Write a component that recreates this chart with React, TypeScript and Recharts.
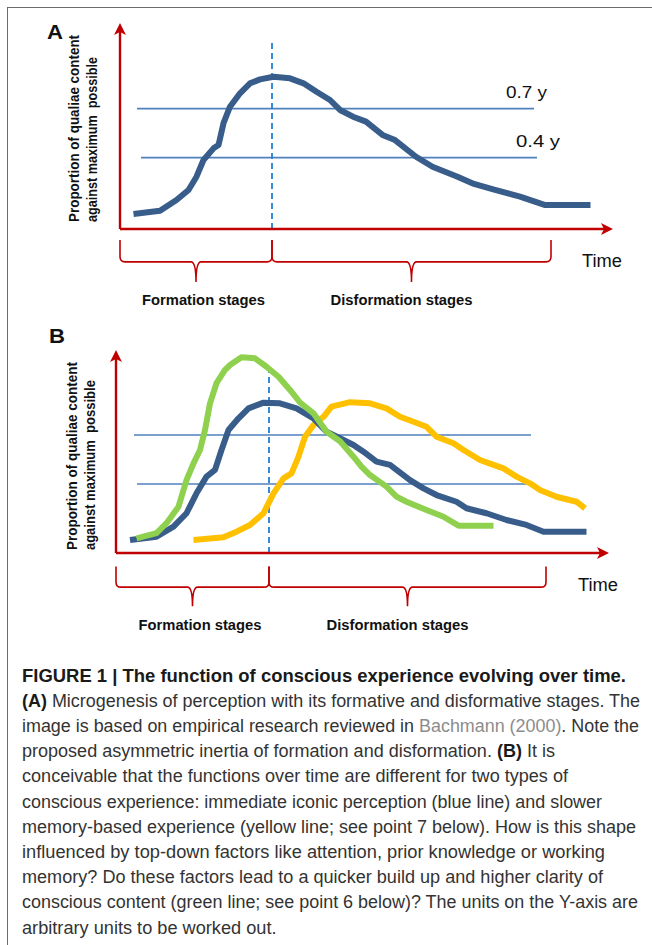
import React from "react";
import {
  LineChart,
  Line,
  XAxis,
  YAxis,
  ReferenceLine,
  ReferenceArea,
  ReferenceDot,
} from "recharts";

/**
 * Figure 1 — conscious experience evolving over time.
 * Two panels (A, B) drawn with Recharts on a shared "time" / "proportion" scale,
 * caption set underneath as SVG text.
 */

const FONT = '"Liberation Sans", Arial, sans-serif';
const RED = "#c00000";
const DARK_BLUE = "#385d8a";
const LINE_BLUE = "#4f81bd";
const DASH_BLUE = "#1f7fd6";
const GREEN = "#8fd14f";
const YELLOW = "#ffc000";

// ---- panel A : iconic perception curve ----
const A_TIME = [2.7, 8, 11.3, 13.7, 15.3, 16.7, 18.7, 19.7, 20.7, 22, 24, 26, 28, 30.7, 34, 36.7, 39.3, 42, 44, 46.6, 49.2, 52.5, 55, 59.2, 62.5, 67.5, 70.8, 75, 80, 84.9, 94.1];
const A_BLUE = [0.087, 0.106, 0.169, 0.227, 0.304, 0.401, 0.469, 0.488, 0.615, 0.711, 0.789, 0.847, 0.87, 0.885, 0.876, 0.847, 0.798, 0.75, 0.692, 0.653, 0.624, 0.547, 0.517, 0.42, 0.362, 0.304, 0.262, 0.227, 0.188, 0.14, 0.14];

// ---- panel B : iconic (blue), memory-based (yellow), top-down boosted (green) ----
const B_BLUE_TIME = [2.8, 8.1, 11.5, 14.1, 16.1, 18.1, 19.8, 21.1, 22.5, 24.5, 26.5, 29.5, 32.8, 36.1, 39.5, 42.1, 44.8, 47.5, 49.5, 52.1, 54.8, 58.8, 61.5, 64.1, 68.1, 70.1, 74.1, 78.1, 82.1, 85.5, 94.1];
const B_BLUE = [0.076, 0.095, 0.153, 0.231, 0.347, 0.444, 0.483, 0.599, 0.715, 0.783, 0.841, 0.874, 0.87, 0.841, 0.783, 0.705, 0.667, 0.628, 0.589, 0.531, 0.512, 0.424, 0.376, 0.337, 0.298, 0.26, 0.231, 0.192, 0.163, 0.124, 0.124];

const B_GREEN_TIME = [4.1, 8.1, 10.1, 12.5, 14.1, 15.5, 16.8, 17.8, 18.8, 20.1, 21.8, 22.8, 25.1, 27.8, 30.1, 32.5, 34.8, 36.8, 39.5, 42.1, 44.8, 47.5, 49.1, 50.8, 54.1, 56.1, 58.1, 62.1, 65.5, 68.5, 75.5];
const B_GREEN = [0.085, 0.115, 0.173, 0.269, 0.424, 0.521, 0.599, 0.715, 0.87, 0.987, 1.064, 1.093, 1.138, 1.132, 1.083, 1.025, 0.948, 0.875, 0.812, 0.705, 0.65, 0.56, 0.502, 0.453, 0.386, 0.328, 0.298, 0.25, 0.211, 0.159, 0.159];

const B_YELLOW_TIME = [15.5, 21.5, 24.1, 26.8, 29.5, 31.5, 33.5, 35.1, 36.5, 37.8, 39.5, 41.5, 43.1, 46.8, 50.8, 54.1, 56.8, 59.5, 62.1, 64.1, 67.5, 69.5, 72.8, 75.5, 77.5, 80.1, 82.8, 84.8, 88.1, 92.1, 93.8];
const B_YELLOW = [0.076, 0.091, 0.124, 0.163, 0.231, 0.347, 0.434, 0.463, 0.56, 0.676, 0.744, 0.792, 0.851, 0.877, 0.87, 0.841, 0.792, 0.763, 0.734, 0.676, 0.638, 0.599, 0.541, 0.512, 0.492, 0.444, 0.405, 0.366, 0.327, 0.298, 0.26];

// stage boundaries (onset, peak, end of disformation) and reference levels
const A_STAGES = [0, 30.4, 86.2];
const B_STAGES = [0, 30.6, 86];
const A_LEVELS = [0.7, 0.415];
const B_LEVELS = [0.686, 0.401];
const A_LEVEL_SPAN = [[3.4, 82.8], [4.2, 83.4]];
const B_LEVEL_SPAN = [[3.6, 83], [4.2, 83.6]];
const LEVEL_LABELS = ["0.7 y", "0.4 y"];
const STAGE_LABELS = ["Formation stages", "Disformation stages"];

const X_DOMAIN: [number, number] = [-20, 104];
const Y_DOMAIN: [number, number] = [-0.5, 1.25];
const AXIS_END_T = 98.6;

type Pt = { t: number; v: number };
const zip = (t: number[], v: number[]): Pt[] => t.map((x, i) => ({ t: x, v: v[i] }));

const arrowUp = (p: any) => (
  <path
    d={`M${p.cx},${p.cy} L${p.cx - 6},${p.cy + 12} L${p.cx},${p.cy + 9} L${p.cx + 6},${p.cy + 12} Z`}
    fill={RED}
  />
);
const arrowRight = (p: any) => (
  <path
    d={`M${p.cx},${p.cy} L${p.cx - 12},${p.cy - 6} L${p.cx - 9},${p.cy} L${p.cx - 12},${p.cy + 6} Z`}
    fill={RED}
  />
);

// horizontal curly brace filling the reference-area rect
const braceShape = (p: any) => {
  const { x, y, width: w, height: h } = p;
  const mid = y + h * 0.52;
  const cx = x + w / 2;
  const r = 5;
  const d =
    `M${x},${y} L${x},${mid - r} Q${x},${mid} ${x + r},${mid} L${cx - r},${mid} ` +
    `Q${cx},${mid} ${cx},${y + h} Q${cx},${mid} ${cx + r},${mid} ` +
    `L${x + w - r},${mid} Q${x + w},${mid} ${x + w},${mid - r} L${x + w},${y}`;
  return <path d={d} fill="none" stroke={RED} strokeWidth={1.6} />;
};

type TextOpts = {
  size: number;
  weight?: number | string;
  anchor?: "start" | "middle" | "end";
  len?: number;
  rotate?: boolean;
};

function textAt(key: string, t: number, v: number, text: string, o: TextOpts) {
  return (
    <ReferenceDot
      key={key}
      x={t}
      y={v}
      r={0}
      ifOverflow="visible"
      shape={(p: any) => (
        <text
          x={p.cx}
          y={p.cy}
          transform={o.rotate ? `rotate(-90 ${p.cx} ${p.cy})` : undefined}
          fontFamily={FONT}
          fontSize={o.size}
          fontWeight={o.weight ?? "normal"}
          textAnchor={o.anchor ?? "start"}
          textLength={o.len}
          lengthAdjust="spacingAndGlyphs"
          fill="#111"
          style={{ whiteSpace: "pre" }}
        >
          {text}
        </text>
      )}
    />
  );
}

type PanelProps = {
  letter: string;
  top: number;
  marginLeft: number;
  curves: { data: Pt[]; color: string }[];
  stages: number[];
  levels: number[];
  spans: number[][];
  showLevelLabels: boolean;
  yTip: number;
  dashTop: number;
  letterPos: [number, number];
  yLabel: { t1: number; t2: number; v: number; len1: number; len2: number };
  stageV: number;
  braceV: [number, number];
};

function Panel(props: PanelProps) {
  const { stages } = props;
  return (
    <div style={{ position: "absolute", left: 0, top: props.top }}>
      <LineChart
        width={652}
        height={320}
        margin={{ top: 14, right: 32 - props.marginLeft, bottom: 5, left: props.marginLeft }}
      >
        <XAxis type="number" dataKey="t" domain={X_DOMAIN} hide allowDataOverflow />
        <YAxis type="number" dataKey="v" domain={Y_DOMAIN} hide allowDataOverflow />

        {/* threshold levels */}
        {props.levels.map((lv, i) => (
          <ReferenceLine
            key={`lv${i}`}
            segment={[
              { x: props.spans[i][0], y: lv },
              { x: props.spans[i][1], y: lv },
            ]}
            stroke={LINE_BLUE}
            strokeWidth={1.6}
            ifOverflow="visible"
          />
        ))}

        {/* peak marker */}
        <ReferenceLine
          segment={[
            { x: stages[1], y: 0 },
            { x: stages[1], y: props.dashTop },
          ]}
          stroke={DASH_BLUE}
          strokeWidth={1.8}
          strokeDasharray="6 4"
          ifOverflow="visible"
        />

        {props.curves.map((c, i) => (
          <Line
            key={`c${i}`}
            data={c.data}
            dataKey="v"
            type="linear"
            stroke={c.color}
            strokeWidth={6}
            strokeLinejoin="round"
            strokeLinecap="butt"
            dot={false}
            activeDot={false}
            isAnimationActive={false}
          />
        ))}

        {/* axes with arrowheads */}
        <ReferenceLine
          segment={[
            { x: 0, y: 0 },
            { x: AXIS_END_T - 1, y: 0 },
          ]}
          stroke={RED}
          strokeWidth={2.4}
          ifOverflow="visible"
        />
        <ReferenceLine
          segment={[
            { x: 0, y: 0 },
            { x: 0, y: props.yTip - 0.03 },
          ]}
          stroke={RED}
          strokeWidth={2.4}
          ifOverflow="visible"
        />
        <ReferenceDot x={AXIS_END_T} y={0} r={0} ifOverflow="visible" shape={arrowRight} />
        <ReferenceDot x={0} y={props.yTip} r={0} ifOverflow="visible" shape={arrowUp} />

        {/* formation / disformation braces */}
        <ReferenceArea
          x1={stages[0]}
          x2={stages[1]}
          y1={props.braceV[0]}
          y2={props.braceV[1]}
          ifOverflow="visible"
          shape={braceShape}
        />
        <ReferenceArea
          x1={stages[1]}
          x2={stages[2]}
          y1={props.braceV[0]}
          y2={props.braceV[1]}
          ifOverflow="visible"
          shape={braceShape}
        />

        {textAt("letter", props.letterPos[0], props.letterPos[1], props.letter, {
          size: 20,
          weight: "bold",
          len: 16,
        })}
        {textAt("yl1", props.yLabel.t1, props.yLabel.v, "Proportion of qualiae content", {
          size: 14.5,
          weight: "bold",
          rotate: true,
          len: props.yLabel.len1,
        })}
        {textAt("yl2", props.yLabel.t2, props.yLabel.v, "against maximum  possible", {
          size: 14.5,
          weight: "bold",
          rotate: true,
          len: props.yLabel.len2,
        })}
        {props.showLevelLabels &&
          textAt("lv0", 77.2, 0.762, LEVEL_LABELS[0], { size: 17, len: 41 })}
        {props.showLevelLabels &&
          textAt("lv1", 79.2, 0.477, LEVEL_LABELS[1], { size: 17, len: 44 })}
        {textAt("time", 92.4, -0.221, "Time", { size: 18, len: 40 })}
        {textAt("st0", (stages[0] + stages[1]) / 2 + 1.5, props.stageV, STAGE_LABELS[0], {
          size: 14.5,
          weight: "bold",
          anchor: "middle",
          len: 123,
        })}
        {textAt("st1", (stages[1] + stages[2]) / 2 - 2, props.stageV, STAGE_LABELS[1], {
          size: 14.5,
          weight: "bold",
          anchor: "middle",
          len: 142,
        })}
      </LineChart>
    </div>
  );
}

// caption: one entry per printed line, segments as [text, style]
type Seg = [string, "b" | "n" | "g"];
const CAPTION: Seg[][] = [
  [["FIGURE 1 | The function of conscious experience evolving over time.", "b"]],
  [["(A)", "b"], [" Microgenesis of perception with its formative and disformative stages. The", "n"]],
  [["image is based on empirical research reviewed in ", "n"], ["Bachmann (2000)", "g"], [". Note the", "n"]],
  [["proposed asymmetric inertia of formation and disformation. ", "n"], ["(B)", "b"], [" It is", "n"]],
  [["conceivable that the functions over time are different for two types of", "n"]],
  [["conscious experience: immediate iconic perception (blue line) and slower", "n"]],
  [["memory-based experience (yellow line; see point 7 below). How is this shape", "n"]],
  [["influenced by top-down factors like attention, prior knowledge or working", "n"]],
  [["memory? Do these factors lead to a quicker build up and higher clarity of", "n"]],
  [["conscious content (green line; see point 6 below)? The units on the Y-axis are", "n"]],
  [["arbitrary units to be worked out.", "n"]],
];
const CAPTION_END = [626, 640, 639, 555, 568, 602, 636, 605, 603, 638, 276.5];

function Caption() {
  return (
    <svg width={652} height={295} style={{ position: "absolute", left: 0, top: 650 }}>
      {CAPTION.map((segs, i) => (
        <text
          key={i}
          x={22}
          y={31.5 + i * 25.2}
          fontFamily={FONT}
          fontSize={17.5}
          fill="#333"
          textLength={CAPTION_END[i] - 22}
          lengthAdjust="spacingAndGlyphs"
          style={{ whiteSpace: "pre" }}
        >
          {segs.map(([s, k], j) => (
            <tspan
              key={j}
              fontWeight={k === "b" ? "bold" : "normal"}
              fill={k === "g" ? "#8c8c8c" : k === "b" ? "#1a1a1a" : "#333"}
            >
              {s}
            </tspan>
          ))}
        </text>
      ))}
    </svg>
  );
}

export default function App() {
  return (
    <div
      style={{
        position: "absolute",
        left: 0,
        top: 0,
        width: 652,
        height: 945,
        overflow: "hidden",
        background: "#fff",
      }}
    >
      <div
        style={{
          position: "absolute",
          left: 7,
          top: 7,
          width: 700,
          height: 1000,
          borderLeft: "1.5px solid #6b6b6b",
          borderTop: "1.5px solid #6b6b6b",
        }}
      />
      <Panel
        letter="A"
        top={0}
        marginLeft={20}
        curves={[{ data: zip(A_TIME, A_BLUE), color: DARK_BLUE }]}
        stages={A_STAGES}
        levels={A_LEVELS}
        spans={A_LEVEL_SPAN}
        showLevelLabels
        yTip={1.198}
        dashTop={1.099}
        letterPos={[-14.6, 1.105]}
        yLabel={{ t1: -8.2, t2: -4.6, v: 0.041, len1: 187, len2: 165 }}
        stageV={-0.442}
        braceV={[-0.308, -0.064]}
      />
      <Panel
        letter="B"
        top={324}
        marginLeft={16}
        curves={[
          { data: zip(B_YELLOW_TIME, B_YELLOW), color: YELLOW },
          { data: zip(B_BLUE_TIME, B_BLUE), color: DARK_BLUE },
          { data: zip(B_GREEN_TIME, B_GREEN), color: GREEN },
        ]}
        stages={B_STAGES}
        levels={B_LEVELS}
        spans={B_LEVEL_SPAN}
        showLevelLabels={false}
        yTip={1.18}
        dashTop={1.081}
        letterPos={[-13.4, 1.221]}
        yLabel={{ t1: -7.8, t2: -4.2, v: 0.017, len1: 188, len2: 170 }}
        stageV={-0.448}
        braceV={[-0.31, -0.078]}
      />
      <Caption />
    </div>
  );
}
